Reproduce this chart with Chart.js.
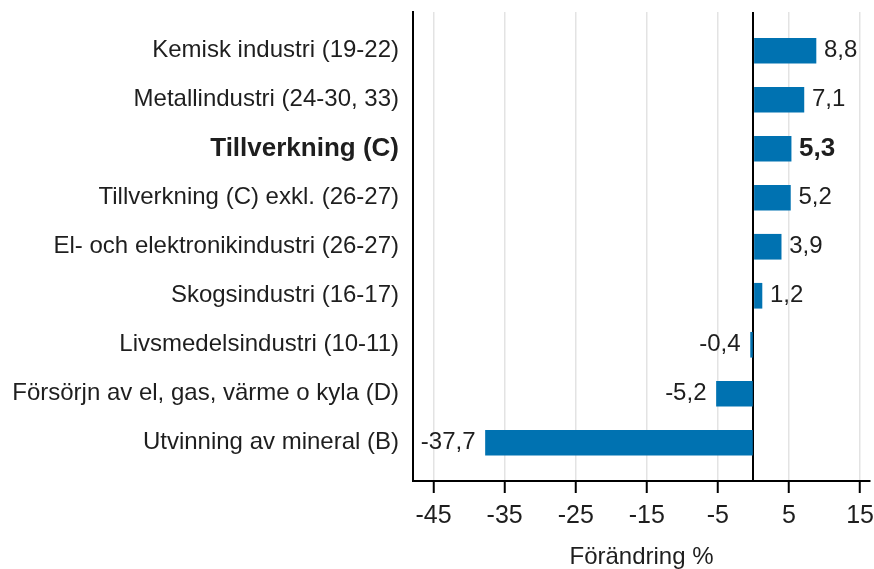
<!DOCTYPE html>
<html>
<head>
<meta charset="utf-8">
<script src="https://cdn.jsdelivr.net/npm/chart.js@4"></script>
<style>
  html, body { margin: 0; padding: 0; background: #fff; }
</style>
</head>
<body>
<canvas id="chart" width="874" height="569"></canvas>
<script>
// Förändring % per bransch
const categories = [
  'Kemisk industri (19-22)',
  'Metallindustri (24-30, 33)',
  'Tillverkning (C)',
  'Tillverkning (C) exkl. (26-27)',
  'El- och elektronikindustri (26-27)',
  'Skogsindustri (16-17)',
  'Livsmedelsindustri (10-11)',
  'Försörjn av el, gas, värme o kyla (D)',
  'Utvinning av mineral (B)'
];
const changes = [8.8, 7.1, 5.3, 5.2, 3.9, 1.2, -0.4, -5.2, -37.7];
const xTicks = [-45, -35, -25, -15, -5, 5, 15];
const boldRow = 2;

const FONT = "'Liberation Sans', Arial, sans-serif";
const TEXT = '#1e1e1e';
Chart.defaults.font.family = FONT;
Chart.defaults.font.size = 24;
Chart.defaults.color = TEXT;

const fmt = v => v.toFixed(1).replace('.', ',');

// value labels next to bar ends
const valueLabels = {
  id: 'valueLabels',
  afterDatasetsDraw(chart) {
    const ctx = chart.ctx;
    const meta = chart.getDatasetMeta(0);
    ctx.save();
    ctx.fillStyle = TEXT;
    ctx.textBaseline = 'middle';
    meta.data.forEach((bar, i) => {
      const v = changes[i];
      ctx.font = (i === boldRow ? 'bold 26px ' : '24px ') + FONT;
      ctx.textAlign = v >= 0 ? 'left' : 'right';
      ctx.fillText(fmt(v), bar.x + (v >= 0 ? 8 : -10), bar.y);
    });
    ctx.restore();
  }
};

new Chart(document.getElementById('chart'), {
  type: 'bar',
  data: {
    datasets: [{
      data: changes.map((v, i) => ({ x: v, y: i })),
      backgroundColor: '#0072b1',
      barThickness: 25
    }]
  },
  options: {
    responsive: false,
    animation: false,
    indexAxis: 'y',
    layout: { padding: { top: 12, right: 4, left: 0, bottom: 0 } },
    plugins: {
      legend: { display: false },
      tooltip: { enabled: false }
    },
    scales: {
      y: {
        type: 'linear',
        reverse: true,
        offset: false,
        min: -0.79,
        max: 8.78,
        afterBuildTicks: s => { s.ticks = categories.map((c, i) => ({ value: i })); },
        afterFit: s => { s.width = 413; s.paddingTop = 0; s.paddingBottom = 0; },
        grid: { display: false, drawTicks: false },
        border: { color: '#000', width: 2 },
        ticks: {
          padding: 14,
          autoSkip: false,
          color: TEXT,
          callback: v => categories[v],
          font: c => ({ size: c.index === boldRow ? 26 : 24, weight: c.index === boldRow ? 'bold' : 'normal' })
        }
      },
      x: {
        type: 'linear',
        min: -47.9,
        max: 16.4,
        afterBuildTicks: s => {
          s.ticks = xTicks.concat([0]).sort((a, b) => a - b).map(v => ({ value: v }));
        },
        afterFit: s => { s.height = 88; s.paddingLeft = 0; s.paddingRight = 0; },
        grid: {
          color: c => (c.tick && c.tick.value === 0) ? '#000' : '#e3e3e3',
          lineWidth: c => (c.tick && c.tick.value === 0) ? 2 : 1.5,
          tickColor: c => (c.tick && c.tick.value === 0) ? 'rgba(0,0,0,0)' : '#000',
          tickLength: 12,
          tickWidth: 2
        },
        border: { color: '#000', width: 2 },
        ticks: {
          padding: 8,
          autoSkip: false,
          maxRotation: 0,
          color: TEXT,
          font: { size: 25 },
          callback: v => v === 0 ? '' : String(v)
        },
        title: {
          display: true,
          text: 'Förändring %',
          color: TEXT,
          font: { size: 24, lineHeight: 1 },
          padding: 0
        }
      }
    }
  },
  plugins: [valueLabels]
});
</script>
</body>
</html>
